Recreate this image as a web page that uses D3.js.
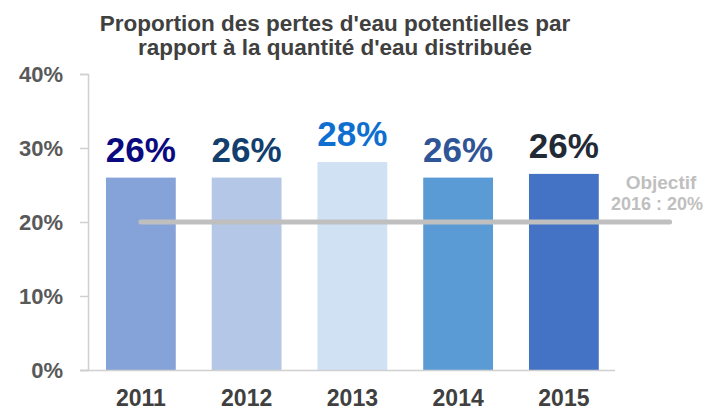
<!DOCTYPE html>
<html>
<head>
<meta charset="utf-8">
<script src="https://cdn.jsdelivr.net/npm/d3@7"></script>
<style>
  body { margin: 0; background: #fff; }
  svg text { font-family: "Liberation Sans", Arial, sans-serif; font-weight: bold; }
</style>
</head>
<body>
<svg id="chart"></svg>
<script>
// Data
const years = ["2011", "2012", "2013", "2014", "2015"];
const lossRates = [26.0, 26.0, 28.1, 26.0, 26.5];
const valueLabels = ["26%", "26%", "28%", "26%", "26%"];
const barColors = ["#86A3D9", "#B4C7E7", "#D0E1F3", "#5B9BD5", "#4472C4"];
const labelColors = ["#0A0A80", "#123F6E", "#0E6FD0", "#2F5597", "#222A35"];
const yTicks = [0, 10, 20, 30, 40];
const targetValue = 20;
const targetLabel = ["Objectif", "2016 : 20%"];
const titleLines = ["Proportion des pertes d'eau potentielles par", "rapport à la quantité d'eau distribuée"];

const width = 706;
const height = 410;

const svg = d3.select("#chart")
    .attr("width", width)
    .attr("height", height);

// Scales
const x = d3.scaleBand()
    .domain(years)
    .range([88, 616.75])
    .paddingInner(0.34)
    .paddingOuter(0.17);

const y = d3.scaleLinear()
    .domain([0, 40])
    .range([370, 74]);

// Title
svg.append("text")
    .attr("x", 335)
    .attr("y", 31)
    .attr("text-anchor", "middle")
    .style("font-size", "22.5px")
    .style("fill", "#404040")
    .selectAll("tspan")
    .data(titleLines)
    .join("tspan")
    .attr("x", 335)
    .attr("dy", (d, i) => i === 0 ? 0 : 24)
    .text(d => d);

// Y axis
const yAxis = svg.append("g")
    .attr("transform", "translate(88,0)")
    .call(d3.axisLeft(y).tickValues(yTicks).tickSize(8).tickPadding(17).tickFormat(d => d + "%"));
yAxis.select(".domain").attr("stroke", "#D0D0D0").attr("stroke-width", 1.5);
yAxis.selectAll(".tick line").attr("stroke", "#D0D0D0").attr("stroke-width", 1.5);
yAxis.selectAll(".tick text")
    .style("font-size", "22px")
    .style("font-family", "'Liberation Sans', Arial, sans-serif")
    .style("fill", "#595959");

// Bars
svg.selectAll(".bar")
    .data(lossRates)
    .join("rect")
    .attr("class", "bar")
    .attr("x", (d, i) => x(years[i]))
    .attr("y", d => y(d))
    .attr("width", x.bandwidth())
    .attr("height", d => y(0) - y(d))
    .attr("fill", (d, i) => barColors[i]);

// X axis
const xAxis = svg.append("g")
    .attr("transform", `translate(0,${y(0)})`)
    .call(d3.axisBottom(x).tickSize(0).tickPadding(20));
xAxis.select(".domain").attr("d", `M80,0.5H615`).attr("stroke", "#D0D0D0").attr("stroke-width", 1.5);
xAxis.selectAll(".tick text")
    .style("font-size", "23px")
    .style("font-family", "'Liberation Sans', Arial, sans-serif")
    .style("fill", "#404040");

// Target line (2011 through the 2016 position)
const xStart = x(years[0]) + x.bandwidth() / 2;
const xEnd = x(years[years.length - 1]) + x.bandwidth() / 2 + x.step();
svg.append("line")
    .attr("x1", xStart)
    .attr("x2", xEnd)
    .attr("y1", y(targetValue))
    .attr("y2", y(targetValue))
    .attr("stroke", "#BFBFBF")
    .attr("stroke-width", 5)
    .attr("stroke-linecap", "round");

// Target label
svg.append("text")
    .style("fill", "#BFBFBF")
    .selectAll("tspan")
    .data(targetLabel)
    .join("tspan")
    .attr("x", (d, i) => i === 0 ? 661 : 703)
    .attr("y", (d, i) => y(targetValue) - 33 + i * 21)
    .attr("text-anchor", (d, i) => i === 0 ? "middle" : "end")
    .style("font-size", (d, i) => i === 0 ? "19px" : "18px")
    .text(d => d);

// Value labels
svg.selectAll(".value")
    .data(lossRates)
    .join("text")
    .attr("class", "value")
    .attr("x", (d, i) => x(years[i]) + x.bandwidth() / 2)
    .attr("y", d => y(d) - 16)
    .attr("text-anchor", "middle")
    .style("font-size", "35px")
    .style("fill", (d, i) => labelColors[i])
    .text((d, i) => valueLabels[i]);
</script>
</body>
</html>
